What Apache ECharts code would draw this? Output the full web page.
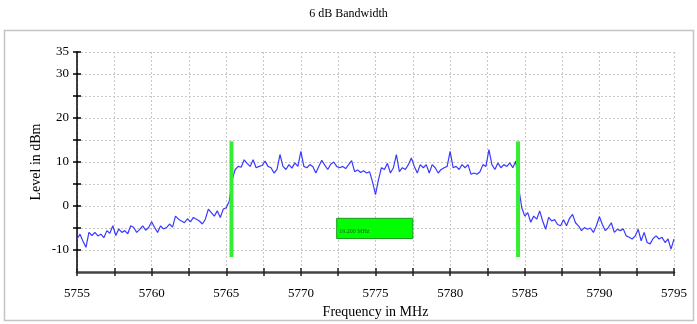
<!DOCTYPE html>
<html>
<head>
<meta charset="utf-8">
<script src="https://cdn.jsdelivr.net/npm/echarts@6/dist/echarts.min.js"></script>
<style>
html,body{margin:0;padding:0;background:#fff;}
#chart{width:697px;height:324px;}
</style>
</head>
<body>
<div id="chart"></div>
<script>
// ---- data ----
var freqStart = 5755;
var freqStep = 0.2;
var levels = [
 -7.5,-6.4,-8.0,-9.4,-6.0,-6.7,-6.0,-6.8,-6.4,-7.2,
 -5.6,-6.2,-4.5,-6.7,-5.2,-6.0,-5.6,-6.3,-4.5,-4.9,
 -6.0,-5.3,-4.5,-5.5,-4.9,-3.6,-4.9,-6.0,-4.5,-5.2,
 -4.9,-4.1,-4.8,-2.3,-3.0,-3.4,-3.8,-2.9,-3.6,-2.6,
 -3.0,-3.4,-4.1,-3.0,-0.7,-1.5,-2.3,-1.1,-2.6,-0.7,
 -0.4,1.1,6.0,8.3,9.0,8.8,10.5,9.7,9.0,10.5,
 8.7,9.0,9.2,10.2,9.0,8.7,7.5,8.3,11.7,9.0,
 8.3,9.4,8.6,9.8,9.0,12.4,9.0,8.7,9.4,9.0,
 7.5,9.0,10.4,9.3,8.3,9.5,10.0,9.0,8.7,9.0,
 8.5,9.4,10.3,7.8,8.2,7.6,8.0,7.5,7.8,5.5,
 2.6,6.0,8.7,8.3,9.7,7.5,8.7,11.7,7.8,8.7,
 8.3,9.4,10.9,9.0,7.5,9.4,8.7,9.4,7.5,9.4,
 8.7,7.5,8.3,8.7,9.0,12.4,8.7,9.0,8.3,9.4,
 8.7,9.4,7.2,7.5,7.2,7.8,9.4,9.0,12.8,9.4,
 8.3,9.8,8.7,9.4,9.0,9.8,8.7,10.2,4.0,-0.4,
 -2.3,-1.5,-3.7,-2.3,-3.0,-1.1,-3.4,-5.3,-2.6,-3.4,
 -3.1,-4.2,-4.5,-3.1,-4.5,-2.8,-1.9,-3.8,-4.5,-5.6,
 -4.9,-5.3,-5.0,-6.0,-4.5,-2.4,-4.2,-5.6,-4.9,-3.8,
 -6.0,-5.3,-5.6,-5.2,-6.8,-7.1,-7.5,-6.8,-5.3,-7.9,
 -6.0,-8.3,-8.6,-7.4,-6.8,-7.5,-7.1,-8.3,-7.5,-9.8,
 -7.5
];
var markerFreqs = [5765.35, 5784.55];
var markerLevels = [-11.6, 14.7];
var boxFreqs = [5772.4, 5777.5];
var boxLevels = [-2.8, -7.4];
var boxText = '19.200 MHz';
var yTickValues = [-10, -5, 0, 5, 10, 15, 20, 25, 30, 35];
var yLabelValues = [-10, 0, 10, 20, 30, 35];
var titleText = '6 dB Bandwidth';
var xName = 'Frequency in MHz';
var yName = 'Level in dBm';

// ---- build ----
var trace = levels.map(function (v, i) {
  return [+(freqStart + i * freqStep).toFixed(1), v];
});
var FONT = "'Liberation Serif','Times New Roman',serif";

var series = [{
  type: 'line',
  data: trace,
  showSymbol: false,
  symbol: 'none',
  lineStyle: { color: '#3a3aff', width: 1.2 },
  z: 3,
  markArea: {
    silent: true,
    itemStyle: { color: '#00ff00', borderColor: '#1a9a1a', borderWidth: 1, opacity: 1 },
    label: {
      show: true, position: 'insideLeft', distance: 3, offset: [0, 3],
      fontSize: 6, fontFamily: FONT, color: '#225522',
      formatter: boxText
    },
    data: [[{ coord: [boxFreqs[0], boxLevels[0]] }, { coord: [boxFreqs[1], boxLevels[1]] }]]
  }
}];
markerFreqs.forEach(function (f) {
  series.push({
    type: 'line',
    data: [[f, markerLevels[0]], [f, markerLevels[1]]],
    showSymbol: false, symbol: 'none',
    lineStyle: { color: '#33ee33', width: 4, cap: 'butt' },
    z: 5
  });
});

var chart = echarts.init(document.getElementById('chart'), null, { renderer: 'canvas' });
chart.setOption({
  animation: false,
  backgroundColor: '#fff',
  title: {
    text: titleText, left: 'center', top: 3,
    textStyle: { fontFamily: FONT, fontSize: 12, fontWeight: 'normal', color: '#000' }
  },
  graphic: [{
    type: 'rect', silent: true, z: -1,
    shape: { x: 4.5, y: 30.5, width: 689, height: 290 },
    style: { fill: 'none', stroke: '#c4c4c4', lineWidth: 1.5 }
  }],
  grid: { left: 77, right: 23, top: 52, bottom: 51 },
  xAxis: [{
    type: 'value', min: 5755, max: 5795, interval: 2.5,
    name: xName, nameLocation: 'middle', nameGap: 33, nameMoveOverlap: false,
    nameTextStyle: { fontFamily: FONT, fontSize: 14, color: '#000' },
    axisLine: { show: true, onZero: false, lineStyle: { color: '#444', width: 2.5 } },
    axisTick: { show: true, inside: false, length: 4, lineStyle: { color: '#222', width: 1.5 } },
    axisLabel: {
      margin: 15, fontFamily: FONT, fontSize: 13, color: '#000',
      formatter: function (v) { return (Math.round(v * 10) % 50 === 0) ? String(v) : ''; }
    },
    splitLine: { show: true, lineStyle: { color: '#c8c8c8', type: [2, 2], width: 1 } }
  }, {
    type: 'value', min: 5755, max: 5795, interval: 2.5, position: 'bottom',
    axisLine: { show: false, onZero: false },
    axisTick: { show: true, inside: true, length: 4, lineStyle: { color: '#222', width: 1.5 } },
    axisLabel: { show: false }, splitLine: { show: false }
  }],
  yAxis: [{
    type: 'value', min: -15, max: 35, interval: 5,
    name: yName, nameLocation: 'middle', nameGap: 34, nameMoveOverlap: false,
    nameTextStyle: { fontFamily: FONT, fontSize: 14, color: '#000' },
    axisLine: { show: true, onZero: false, lineStyle: { color: '#000', width: 1.5 } },
    axisTick: { show: true, inside: false, length: 4, customValues: yTickValues, lineStyle: { color: '#000', width: 1.5 } },
    axisLabel: { margin: 8, fontFamily: FONT, fontSize: 13, color: '#000', customValues: yLabelValues },
    splitLine: { show: true, lineStyle: { color: '#c8c8c8', type: [2, 2], width: 1 } }
  }, {
    type: 'value', min: -15, max: 35, interval: 5, position: 'left',
    axisLine: { show: false, onZero: false },
    axisTick: { show: true, inside: true, length: 4, customValues: yTickValues, lineStyle: { color: '#000', width: 1.5 } },
    axisLabel: { show: false }, splitLine: { show: false }
  }],
  series: series
});
</script>
</body>
</html>
